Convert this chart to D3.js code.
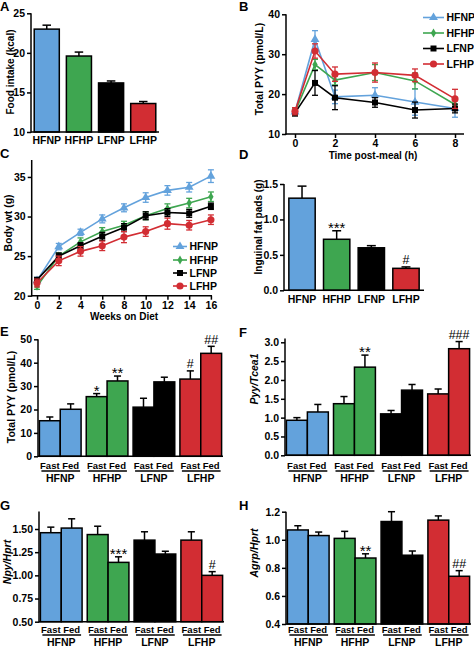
<!DOCTYPE html>
<html><head><meta charset="utf-8">
<script src="https://cdn.jsdelivr.net/npm/d3@7"></script>
<style>
body{margin:0;background:#fff}
svg{display:block}
text{font-family:"Liberation Sans",Arial,Helvetica,sans-serif;font-weight:bold;fill:#000}
</style>
</head><body>
<svg id="c" width="474" height="649"></svg>
<script>
// ---------- DATA ----------
const groups = ["HFNP", "HFHP", "LFNP", "LFHP"];
const groupColors = ["#63a2dc", "#3ea650", "#000000", "#d22d33"];
const conditions = ["Fast", "Fed"];

// A: food intake (kcal)
const foodIntake = [23.0, 19.6, 16.2, 13.6];
const foodIntakeErr = [0.5, 0.5, 0.25, 0.25];
const foodTicks = [10, 15, 20, 25];

// B: total PYY over time post-meal
const pyyTimes = [0, 1, 2, 4, 6, 8];
const pyyHFNP = [15.5, 33.7, 19.3, 19.7, 18.0, 16.4];
const pyyHFNPErr = [0.8, 2.2, 1.7, 1.9, 3.3, 2.2];
const pyyHFHP = [15.5, 27.4, 23.5, 25.4, 23.3, 17.4];
const pyyHFHPErr = [0.8, 1.3, 1.2, 2.0, 2.0, 1.0];
const pyyLFNP = [15.3, 22.8, 19.1, 17.9, 16.0, 16.4];
const pyyLFNPErr = [0.8, 3.1, 3.0, 1.2, 2.0, 1.1];
const pyyLFHP = [15.7, 30.8, 25.0, 25.4, 24.7, 18.8];
const pyyLFHPErr = [0.9, 1.8, 1.8, 2.4, 1.6, 2.4];
const pyyTimeTicks = [0, 2, 4, 6, 8];
const pyyTicks = [10, 20, 30, 40];

// C: body weight over weeks on diet
const weeks = [0, 2, 4, 6, 8, 10, 12, 14, 16];
const bwHFNP = [21.9, 26.2, 28.0, 29.7, 31.1, 32.4, 33.3, 33.7, 35.1];
const bwHFNPErr = [0.4, 0.4, 0.4, 0.5, 0.5, 0.6, 0.6, 0.6, 0.8];
const bwHFHP = [21.2, 25.0, 26.8, 28.1, 28.9, 30.1, 31.0, 31.7, 32.5];
const bwHFHPErr = [0.4, 0.4, 0.5, 0.5, 0.5, 0.5, 0.6, 0.6, 0.6];
const bwLFNP = [22.0, 25.0, 26.3, 27.5, 28.6, 30.1, 30.5, 30.4, 31.3];
const bwLFNPErr = [0.3, 0.4, 0.4, 0.5, 0.5, 0.5, 0.5, 0.5, 0.4];
const bwLFHP = [21.6, 24.4, 25.6, 26.3, 27.4, 28.1, 29.1, 28.9, 29.6];
const bwLFHPErr = [0.5, 0.6, 0.6, 0.6, 0.7, 0.6, 0.7, 0.6, 0.6];
const weekTicks = [0, 2, 4, 6, 8, 10, 12, 14, 16];
const bwTicks = [20, 25, 30, 35];

// D: inguinal fat pads (g)
const fatPads = [1.30, 0.72, 0.60, 0.31];
const fatPadsErr = [0.17, 0.12, 0.03, 0.02];
const fatPadsMarks = ["", "***", "", "#"];
const fatTicks = [0, 0.5, 1.0, 1.5];

// E: total PYY fast / fed
const pyyFast = [15.2, 25.5, 21.0, 33.0];
const pyyFastErr = [1.6, 1.3, 3.8, 3.5];
const pyyFed = [20.1, 32.2, 31.8, 44.0];
const pyyFedErr = [2.3, 2.1, 2.0, 3.0];
const pyyFastMarks = ["", "*", "", "#"];
const pyyFedMarks = ["", "**", "", "##"];
const pyyBarTicks = [0, 10, 20, 30, 40, 50];

// F: Pyy/Tcea1
const pyyMrnaFast = [0.93, 1.37, 1.10, 1.63];
const pyyMrnaFastErr = [0.07, 0.19, 0.09, 0.13];
const pyyMrnaFed = [1.15, 2.34, 1.73, 2.83];
const pyyMrnaFedErr = [0.20, 0.32, 0.15, 0.19];
const pyyMrnaFastMarks = ["", "", "", ""];
const pyyMrnaFedMarks = ["", "**", "", "###"];
const pyyMrnaTicks = [0, 0.5, 1.0, 1.5, 2.0, 2.5, 3.0];

// G: Npy/Hprt
const npyFast = [1.46, 1.44, 1.38, 1.38];
const npyFastErr = [0.06, 0.09, 0.09, 0.09];
const npyFed = [1.51, 1.14, 1.23, 1.00];
const npyFedErr = [0.10, 0.06, 0.03, 0.04];
const npyFastMarks = ["", "", "", ""];
const npyFedMarks = ["", "***", "", "#"];
const npyTicks = [0.50, 0.75, 1.00, 1.25, 1.50];

// H: Agrp/Hprt
const agrpFast = [1.07, 1.01, 1.13, 1.14];
const agrpFastErr = [0.03, 0.05, 0.07, 0.03];
const agrpFed = [1.03, 0.87, 0.89, 0.74];
const agrpFedErr = [0.025, 0.03, 0.03, 0.04];
const agrpFastMarks = ["", "", "", ""];
const agrpFedMarks = ["", "**", "", "##"];
const agrpTicks = [0.4, 0.6, 0.8, 1.0, 1.2];

// ---------- DRAWING ----------
const svg = d3.select("#c");
const SW = 1.5;

function panelLetter(t, x, y) {
  svg.append("text").attr("x", x).attr("y", y).attr("font-size", 13).text(t);
}
function yLabel(t, cx, cy, italic, size) {
  svg.append("text").attr("transform", `translate(${cx},${cy}) rotate(-90)`)
    .attr("text-anchor", "middle").attr("dy", "0.35em")
    .attr("font-size", size || 10.5).attr("font-style", italic ? "italic" : "normal").text(t);
}
function leftAxis(y, x, ticks, fmt, topPx, botPx) {
  const g = svg.append("g").attr("transform", `translate(${x},0)`)
    .call(d3.axisLeft(y).tickValues(ticks).tickFormat(fmt).tickSize(4).tickSizeOuter(0).tickPadding(2));
  g.select(".domain").remove();
  g.selectAll(".tick line").attr("stroke", "#000").attr("stroke-width", SW);
  g.selectAll(".tick text").attr("font-size", 10.5).attr("font-family", "Liberation Sans, Arial, sans-serif").attr("font-weight", "bold");
  g.append("line").attr("x1", 0).attr("x2", 0).attr("y1", topPx).attr("y2", botPx + 0.75)
    .attr("stroke", "#000").attr("stroke-width", SW);
}
function hLine(x1, x2, yv) {
  svg.append("line").attr("x1", x1).attr("x2", x2).attr("y1", yv).attr("y2", yv)
    .attr("stroke", "#000").attr("stroke-width", SW);
}
function mark(t, cx, errTopPx) {
  if (!t) return;
  const star = t[0] === "*";
  svg.append("text").attr("x", cx).attr("y", star ? errTopPx + 2 : errTopPx - 2.5)
    .attr("text-anchor", "middle").attr("font-size", star ? 15 : 12.5)
    .style("font-weight", "normal").text(t);
}
function barWithErr(x, w, yScale, v, e, color, base) {
  const top = yScale(v), et = yScale(v + e);
  const cw = w * 0.34;
  svg.append("line").attr("x1", x + w / 2).attr("x2", x + w / 2).attr("y1", top).attr("y2", et)
    .attr("stroke", "#000").attr("stroke-width", SW);
  svg.append("line").attr("x1", x + w / 2 - cw / 2).attr("x2", x + w / 2 + cw / 2).attr("y1", et).attr("y2", et)
    .attr("stroke", "#000").attr("stroke-width", SW);
  svg.append("rect").attr("x", x).attr("y", top).attr("width", w).attr("height", yScale(base) - top)
    .attr("fill", color).attr("stroke", "#000").attr("stroke-width", SW);
  return et;
}

function simpleBars(o) {
  const y = d3.scaleLinear().domain(o.domain).range([o.yB, o.yT]);
  const x = d3.scaleBand().domain(groups).range([o.x0, o.x1]).paddingInner(o.pi).paddingOuter(o.po);
  groups.forEach((gname, i) => {
    const et = barWithErr(x(gname), x.bandwidth(), y, o.values[i], o.errs[i], groupColors[i], o.domain[0]);
    if (o.marks) mark(o.marks[i], x(gname) + x.bandwidth() / 2, et);
    svg.append("text").attr("x", x(gname) + x.bandwidth() / 2).attr("y", o.catY)
      .attr("text-anchor", "middle").attr("font-size", 10.5).text(gname);
  });
  leftAxis(y, o.x0, o.ticks, o.fmt, y(o.domain[1]), o.yB);
  hLine(o.x0, o.x1, o.yB);
  yLabel(o.label, o.lx, o.ly, false, o.lsize);
}

function groupedBars(o) {
  const y = d3.scaleLinear().domain(o.domain).range([o.yB, o.yT]);
  const x = d3.scaleBand().domain(groups).range([o.x0, o.x1]).paddingInner(0.11).paddingOuter(0.03);
  const xi = d3.scaleBand().domain(conditions).range([0, x.bandwidth()]);
  groups.forEach((gname, i) => {
    const gx = x(gname);
    conditions.forEach((c, j) => {
      const v = j === 0 ? o.fast[i] : o.fed[i];
      const e = j === 0 ? o.fastErr[i] : o.fedErr[i];
      const m = j === 0 ? o.fastMarks[i] : o.fedMarks[i];
      const bx = gx + xi(c);
      const et = barWithErr(bx, xi.bandwidth(), y, v, e, groupColors[i], o.domain[0]);
      mark(m, bx + xi.bandwidth() / 2, et);
      svg.append("text").attr("x", bx + xi.bandwidth() / 2).attr("y", o.condY)
        .attr("text-anchor", "middle").attr("font-size", 9.5).text(c);
    });
    hLine(gx + 2, gx + x.bandwidth() - 1, o.condY + 2.5);
    svg.append("text").attr("x", gx + x.bandwidth() / 2).attr("y", o.condY + 13.5)
      .attr("text-anchor", "middle").attr("font-size", 10.5).text(gname);
  });
  leftAxis(y, o.x0, o.ticks, o.fmt, y(o.axisTop), o.yB);
  hLine(o.x0, o.x1, o.yB);
  yLabel(o.label, o.lx, o.ly, o.italic, o.lsize);
}

const symbolTypes = [d3.symbolTriangle, d3.symbolDiamond, d3.symbolSquare, d3.symbolCircle];
const symbolSizes = [34, 24, 36, 40];

function lineChart(o) {
  const x = d3.scaleLinear().domain(o.xDomain).range([o.x0, o.x1]);
  const y = d3.scaleLinear().domain(o.yDomain).range([o.yB, o.yT]);
  const line = d3.line().x((d) => x(d[0])).y((d) => y(d[1]));
  o.series.forEach((s, k) => {
    const col = groupColors[k];
    const pts = o.xs.map((t, i) => [t, s.v[i], s.e[i]]);
    const g = svg.append("g");
    pts.forEach((p) => {
      const cx = x(p[0]);
      g.append("line").attr("x1", cx).attr("x2", cx).attr("y1", y(p[1] - p[2])).attr("y2", y(p[1] + p[2]))
        .attr("stroke", col).attr("stroke-width", 1.3);
      [p[1] - p[2], p[1] + p[2]].forEach((ev) => {
        g.append("line").attr("x1", cx - 3).attr("x2", cx + 3).attr("y1", y(ev)).attr("y2", y(ev))
          .attr("stroke", col).attr("stroke-width", 1.3);
      });
    });
    g.append("path").datum(pts).attr("d", line).attr("fill", "none").attr("stroke", col).attr("stroke-width", 1.6);
    g.selectAll("path.sym").data(pts).enter().append("path").attr("class", "sym")
      .attr("d", d3.symbol().type(symbolTypes[k]).size(symbolSizes[k]))
      .attr("transform", (d) => `translate(${x(d[0])},${y(d[1])})`).attr("fill", col);
  });
  leftAxis(y, o.x0, o.yTicks, d3.format("d"), o.yT, o.yB);
  const gx = svg.append("g").attr("transform", `translate(0,${o.yB})`)
    .call(d3.axisBottom(x).tickValues(o.xTicks).tickFormat(d3.format("d")).tickSize(4).tickSizeOuter(0).tickPadding(1.5));
  gx.select(".domain").remove();
  gx.selectAll(".tick line").attr("stroke", "#000").attr("stroke-width", SW);
  gx.selectAll(".tick text").attr("font-size", 10.5).attr("font-family", "Liberation Sans, Arial, sans-serif").attr("font-weight", "bold");
  hLine(o.x0 - 0.75, o.x1, o.yB);
  svg.append("text").attr("x", o.xlx).attr("y", o.xly).attr("text-anchor", "middle").attr("font-size", 10).text(o.xlabel);
  yLabel(o.label, o.lx, o.ly, false, o.lsize);
  // legend
  groups.forEach((gname, k) => {
    const ly = o.legY[k];
    svg.append("line").attr("x1", o.legX0).attr("x2", o.legX1).attr("y1", ly).attr("y2", ly)
      .attr("stroke", groupColors[k]).attr("stroke-width", 1.6);
    svg.append("path").attr("d", d3.symbol().type(symbolTypes[k]).size(symbolSizes[k])())
      .attr("transform", `translate(${(o.legX0 + o.legX1) / 2},${ly})`).attr("fill", groupColors[k]);
    svg.append("text").attr("x", o.legX1 + 2.5).attr("y", ly).attr("dy", "0.36em").attr("font-size", 10.5).text(gname);
  });
}

// Panel A
panelLetter("A", 0, 11);
simpleBars({ x0: 31, x1: 159, yB: 132, yT: 13.3, domain: [10, 25], ticks: foodTicks, fmt: d3.format("d"),
  values: foodIntake, errs: foodIntakeErr, pi: 0.22, po: 0.1, catY: 144, label: "Food intake (kcal)", lx: 10, ly: 72, lsize: 10 });

// Panel B
panelLetter("B", 239, 11);
lineChart({ x0: 286, x1: 464, yB: 134, yT: 14.3, xDomain: [-0.45, 8.45], yDomain: [10, 40], xs: pyyTimes,
  series: [{ v: pyyHFNP, e: pyyHFNPErr }, { v: pyyHFHP, e: pyyHFHPErr }, { v: pyyLFNP, e: pyyLFNPErr }, { v: pyyLFHP, e: pyyLFHPErr }],
  xTicks: pyyTimeTicks, yTicks: pyyTicks, xlabel: "Time post-meal (h)", xlx: 373, xly: 159,
  label: "Total PYY (pmol/L)", lx: 259.5, ly: 69, lsize: 10.5,
  legX0: 423, legX1: 444, legY: [17.5, 33, 48.5, 64] });

// Panel C
panelLetter("C", 0, 158);
lineChart({ x0: 31.7, x1: 212, yB: 295.7, yT: 160, xDomain: [-0.49, 16.1], yDomain: [20, 37.14], xs: weeks,
  series: [{ v: bwHFNP, e: bwHFNPErr }, { v: bwHFHP, e: bwHFHPErr }, { v: bwLFNP, e: bwLFNPErr }, { v: bwLFHP, e: bwLFHPErr }],
  xTicks: weekTicks, yTicks: bwTicks, xlabel: "Weeks on Diet", xlx: 124, xly: 319.5,
  label: "Body wt (g)", lx: 8, ly: 223, lsize: 10.5,
  legX0: 173, legX1: 187, legY: [246.5, 260, 273, 286] });

// Panel D
panelLetter("D", 239, 159);
simpleBars({ x0: 284, x1: 424, yB: 290.3, yT: 184, domain: [0, 1.5], ticks: fatTicks, fmt: d3.format(".1f"),
  values: fatPads, errs: fatPadsErr, marks: fatPadsMarks, pi: 0.24, po: 0.14, catY: 303,
  label: "Inguinal fat pads (g)", lx: 258, ly: 227, lsize: 10 });

// Panel E
panelLetter("E", 0, 336);
groupedBars({ x0: 38, x1: 223, yB: 456.3, yT: 339.3, domain: [0, 50], axisTop: 50, ticks: pyyBarTicks, fmt: d3.format("d"),
  fast: pyyFast, fastErr: pyyFastErr, fed: pyyFed, fedErr: pyyFedErr, fastMarks: pyyFastMarks, fedMarks: pyyFedMarks,
  condY: 468.5, label: "Total PYY (pmol/L)", lx: 11, ly: 397, lsize: 10.5 });

// Panel F
panelLetter("F", 239, 337);
groupedBars({ x0: 285, x1: 471, yB: 455.3, yT: 342.3, domain: [0, 3], axisTop: 3.1, ticks: pyyMrnaTicks, fmt: d3.format(".1f"),
  fast: pyyMrnaFast, fastErr: pyyMrnaFastErr, fed: pyyMrnaFed, fedErr: pyyMrnaFedErr, fastMarks: pyyMrnaFastMarks, fedMarks: pyyMrnaFedMarks,
  condY: 468.5, label: "Pyy/Tcea1", italic: true, lx: 254, ly: 379, lsize: 10.5 });

// Panel G
panelLetter("G", 0, 510);
groupedBars({ x0: 39, x1: 224, yB: 621.7, yT: 529, domain: [0.5, 1.5], axisTop: 1.69, ticks: npyTicks, fmt: d3.format(".2f"),
  fast: npyFast, fastErr: npyFastErr, fed: npyFed, fedErr: npyFedErr, fastMarks: npyFastMarks, fedMarks: npyFedMarks,
  condY: 632.5, label: "Npy/Hprt", italic: true, lx: 7, ly: 562, lsize: 10.5 });

// Panel H
panelLetter("H", 239, 510);
groupedBars({ x0: 286, x1: 471, yB: 624, yT: 511.7, domain: [0.4, 1.2], axisTop: 1.2, ticks: agrpTicks, fmt: d3.format(".1f"),
  fast: agrpFast, fastErr: agrpFastErr, fed: agrpFed, fedErr: agrpFedErr, fastMarks: agrpFastMarks, fedMarks: agrpFedMarks,
  condY: 632.5, label: "Agrp/Hprt", italic: true, lx: 254.5, ly: 553, lsize: 10.5 });
</script>
</body></html>
